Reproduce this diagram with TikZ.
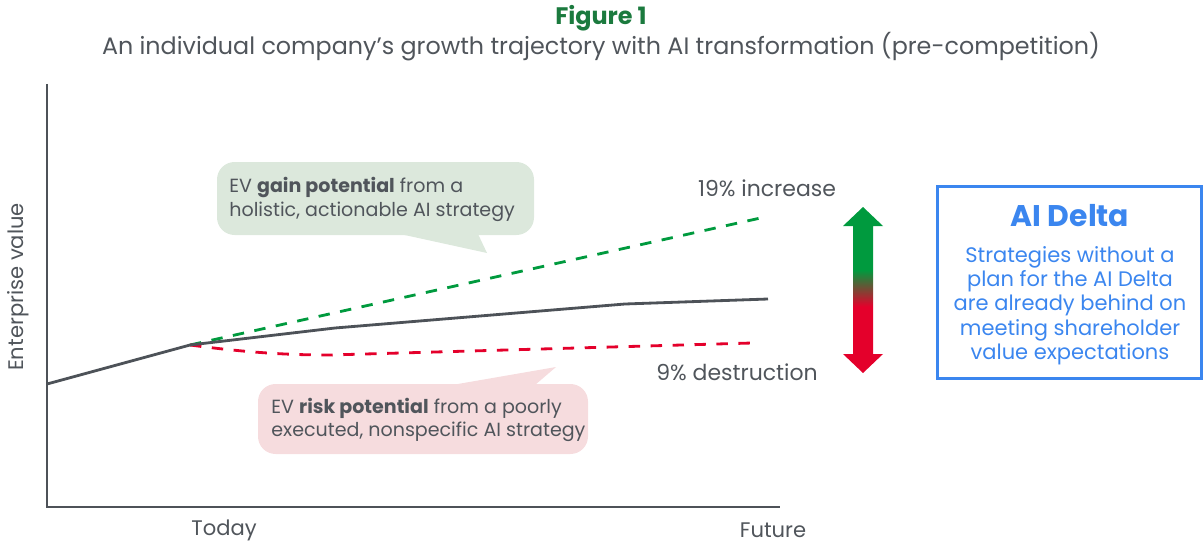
\documentclass[tikz,border=0pt]{standalone}
\usepackage{fontspec}
\setmainfont{Poppins}
\usetikzlibrary{positioning}
\definecolor{titlegreen}{HTML}{1B7A3E}
\definecolor{txtgray}{HTML}{50555B}
\definecolor{axisgray}{HTML}{4D5258}
\definecolor{gaingreen}{HTML}{009A3E}
\definecolor{lossred}{HTML}{E4002B}
\definecolor{gainfill}{HTML}{DCE8DC}
\definecolor{lossfill}{HTML}{F6DCDE}
\definecolor{deltablue}{HTML}{3B86EF}
\pgfdeclareverticalshading{deltagrad}{100bp}{color(0bp)=(lossred); color(45bp)=(lossred); color(56bp)=(gaingreen); color(100bp)=(gaingreen)}
\tikzset{>=latex,
  axisline/.style={line width=1.6pt, draw=axisgray},
  trend/.style={line width=1.6pt, draw=axisgray, line join=round},
  gainline/.style={line width=1.6pt, draw=gaingreen, dash pattern=on 6.5pt off 6pt},
  lossline/.style={line width=1.6pt, draw=lossred, dash pattern=on 6.5pt off 6pt},
  label/.style={text=txtgray, font=\fontsize{12.5}{14}\selectfont, inner sep=0pt},
  axislabel/.style={text=txtgray, font=\fontsize{12}{14}\selectfont, inner sep=0pt},
  calltext/.style={text=txtgray, font=\fontsize{10.85}{13.4}\selectfont, align=left, anchor=west, inner sep=0pt}
}
\begin{document}
\begin{tikzpicture}[x=0.02cm,y=-0.02cm]
  \useasboundingbox (0,0) rectangle (1203,544);
  % titles
  \node[text=titlegreen, font=\bfseries\fontsize{13.6}{16}\selectfont] (fig) at (601,18) {Figure 1};
  \node[text=txtgray, font=\fontsize{13.55}{16}\selectfont] (sub) at (601,47) {An individual company’s growth trajectory with AI transformation (pre-competition)};
  % axes
  \coordinate (ytop) at (47,84);
  \coordinate (orig) at (47,507);
  \coordinate (xend) at (780,507);
  \draw[axisline] (ytop) -- (orig) -- (xend);
  \node[axislabel, rotate=90] (ylab) at (18,287) {Enterprise value};
  \node[axislabel] (today) at (224,530) {Today};
  \node[axislabel] (future) at (773,530) {Future};
  % trajectories
  \coordinate (start) at (47,384);
  \coordinate (now) at (190,345);
  \coordinate (t1) at (335,328);
  \coordinate (t2) at (625,304);
  \coordinate (tend) at (768,299);
  \coordinate (gend) at (765,217);
  \coordinate (rlow) at (330,355);
  \coordinate (rend) at (752,343);
  \draw[gainline] (now) -- (gend);
  \draw[lossline] (now) .. controls (250,353) and (290,355) .. (rlow) -- (rend);
  \draw[trend] (start) -- (now) -- (t1) -- (t2) -- (tend);
  \node[label] (inc) at (767,188) {19\% increase};
  \node[label] (dest) at (737,372) {9\% destruction};
  % callouts
  \fill[gainfill, rounded corners=10] (217,162) rectangle (534,235);
  \fill[gainfill] (400,234) -- (487,253) -- (478,234) -- cycle;
  \node[calltext] (gaintext) at (229,199.5) {EV \textbf{gain potential} from a\\holistic, actionable AI strategy};
  \fill[lossfill, rounded corners=10] (258,384) rectangle (588,454);
  \fill[lossfill] (452,385) -- (556,367) -- (535,385) -- cycle;
  \node[calltext] (losstext) at (271,420) {EV \textbf{risk potential} from a poorly\\executed, nonspecific AI strategy};
  % delta arrow
  \shade[shading=deltagrad] (863,207) -- (883,226) -- (873,226) -- (873,354) -- (883,354)
    -- (863,373) -- (843,354) -- (853,354) -- (853,226) -- (843,226) -- cycle;
  % AI Delta box
  \node[draw=deltablue, line width=1.2pt, minimum width=5.28cm, minimum height=3.84cm] (delta) at (1069.5,282.5) {};
  \node[text=deltablue, font=\bfseries\fontsize{17}{20}\selectfont] (dtitle) at (1070,216) {AI Delta};
  \node[text=deltablue, font=\fontsize{11.95}{13.8}\selectfont, align=center] (dbody) at (1070,305.5) {Strategies without a\\plan for the AI Delta\\are already behind on\\meeting shareholder\\value expectations};
\end{tikzpicture}
\end{document}
